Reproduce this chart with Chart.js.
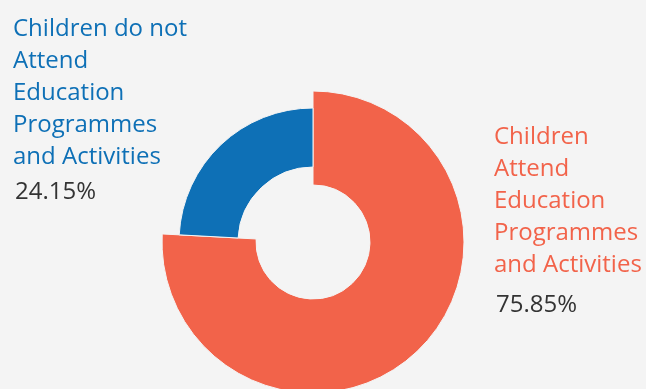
<!DOCTYPE html>
<html lang="en">
<head>
  <meta charset="UTF-8">
  <title>Education Programmes Attendance</title>
  <script src="https://cdn.jsdelivr.net/npm/chart.js"></script>
  <style>
    html, body { margin: 0; padding: 0; background: #f4f4f4; }
    #wrap { position: relative; width: 646px; height: 389px; overflow: hidden; }
  </style>
</head>
<body>
  <div id="wrap"><canvas id="attendChart" width="646" height="389"></canvas></div>

  <script>
    // data
    const categories = [
      ["Children", "Attend", "Education", "Programmes", "and Activities"],
      ["Children do not", "Attend", "Education", "Programmes", "and Activities"]
    ];
    const shares = [75.85, 24.15];
    const shareLabels = ["75.85%", "24.15%"];

    const colors = ["#f2634a", "#0e70b6"];
    // each slice has its own ring thickness
    const ringSizes = [{ inner: 57, outer: 151 }, { inner: 75, outer: 134 }];
    // first baseline of each label block
    const labelPos = [{ x: 494, y: 144, pctY: 312 }, { x: 13, y: 36, pctY: 199 }];

    const ringPlugin = {
      id: "ringSizes",
      afterDatasetsUpdate(chart) {
        chart.getDatasetMeta(0).data.forEach((arc, i) => {
          arc.innerRadius = ringSizes[i].inner;
          arc.outerRadius = ringSizes[i].outer;
        });
      }
    };

    const labelPlugin = {
      id: "sideLabels",
      afterDraw(chart) {
        const ctx = chart.ctx;
        ctx.save();
        ctx.textAlign = "left";
        ctx.textBaseline = "alphabetic";
        categories.forEach((lines, i) => {
          const p = labelPos[i];
          ctx.fillStyle = colors[i];
          ctx.font = "24px 'Open Sans'";
          lines.forEach((line, j) => ctx.fillText(line, p.x, p.y + j * 32));
          ctx.fillStyle = "#333333";
          ctx.font = "24px 'Open Sans'";
          ctx.fillText(shareLabels[i], p.x + 2, p.pctY);
        });
        ctx.restore();
      }
    };

    new Chart(document.getElementById("attendChart"), {
      type: "doughnut",
      data: {
        labels: categories.map(c => c.join(" ")),
        datasets: [{
          data: shares,
          backgroundColor: colors,
          borderColor: "#f4f4f4",
          borderWidth: 1
        }]
      },
      options: {
        responsive: false,
        animation: false,
        rotation: 0,
        layout: { padding: { left: 0, right: 20, top: 95, bottom: 0 } },
        plugins: {
          legend: { display: false },
          tooltip: { enabled: false }
        }
      },
      plugins: [ringPlugin, labelPlugin]
    });
  </script>
</body>
</html>
